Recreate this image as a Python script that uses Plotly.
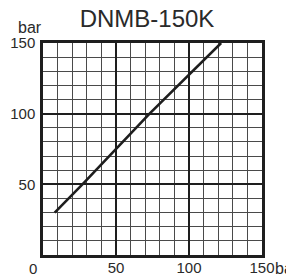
import plotly.graph_objects as go

title_text = "DNMB-150K"
flow_bar = [8, 27, 73, 122]
pressure_bar = [30, 50, 100, 150]
tick_vals = [50, 100, 150]
tick_text = ["50", "100", "150"]

FONT = "Liberation Sans"
TXT = "#2a2a2a"

# page body has an 8px default margin; size the figure so the plot lands where the reference has it
W, H = 286, 268

fig = go.Figure()
fig.add_trace(go.Scatter(x=flow_bar, y=pressure_bar, mode="lines",
                         line=dict(color="#1e1e1e", width=2.6), showlegend=False,
                         hoverinfo="skip"))

axis_common = dict(
    range=[0, 150], tickvals=tick_vals, ticktext=tick_text,
    showgrid=True, gridcolor="#1e1e1e", gridwidth=2,
    minor=dict(dtick=10, tick0=0, showgrid=True, gridcolor="#4a4a4a", gridwidth=1, ticks=""),
    showline=True, linecolor="#1e1e1e", linewidth=2.5, mirror=True,
    ticks="", ticklen=0, zeroline=False, automargin=False,
    tickfont=dict(family=FONT, size=15, color=TXT),
)

fig.update_xaxes(**axis_common, ticklabelstandoff=-3)
fig.update_yaxes(**axis_common, ticklabelstandoff=2)

fig.update_layout(
    width=W, height=H,
    margin=dict(l=35, r=32, t=35, b=21, autoexpand=False),
    paper_bgcolor="white", plot_bgcolor="white",
    title=dict(text=title_text, x=(147 - 8) / W, xanchor="center", y=1 - 11 / H, yanchor="middle",
               font=dict(family=FONT, size=24, color=TXT)),
    annotations=[
        dict(text="bar", xref="paper", yref="paper", x=-13 / 219, y=1 + 16 / 212,
             xanchor="center", yanchor="middle", showarrow=False,
             font=dict(family=FONT, size=16, color=TXT)),
        dict(text="bar", xref="paper", yref="paper", x=1 + 11 / 219, y=-13 / 212,
             xanchor="left", yanchor="middle", showarrow=False,
             font=dict(family=FONT, size=16, color=TXT)),
        dict(text="0", xref="paper", yref="paper", x=-10 / 219, y=-13 / 212,
             xanchor="center", yanchor="middle", showarrow=False,
             font=dict(family=FONT, size=15, color=TXT)),
    ],
)

fig.write_html("out.html")
